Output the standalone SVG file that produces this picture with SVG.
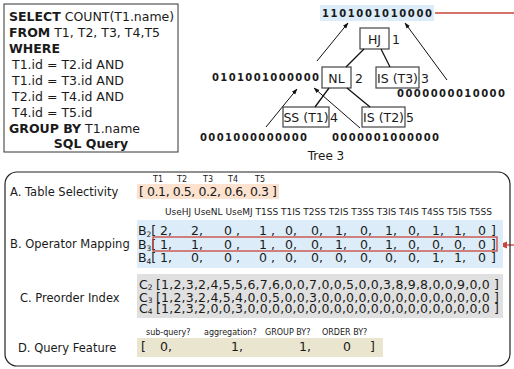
<svg xmlns="http://www.w3.org/2000/svg" width="514" height="369" viewBox="0 0 514 369">
  <style>
    text { font-family: "DejaVu Sans", Verdana, sans-serif; fill: #1a1a1a; }
    .sql { font-size: 12.5px; }
    .b { font-weight: bold; }
    .bits { font-size: 10px; font-weight: bold; }
    .node rect { fill: #ffffff; stroke: #444; stroke-width: 1.2; }
    .node text { font-size: 12.5px; }
    .lbl { font-size: 11.5px; }
    .row { font-size: 12.5px; }
    .tiny { font-size: 8px; }
    .hdr { font-size: 9px; }
    .sub { font-size: 7.5px; }
    .edge { stroke: #111; stroke-width: 1.3; fill: none; }
    .arr { stroke: #111; stroke-width: 1; fill: none; marker-end: url(#ah); }
    .red { stroke: #c8463b; stroke-width: 1.3; fill: none; }
  </style>
  <defs>
    <marker id="ah" viewBox="0 0 10 10" refX="9" refY="5" markerWidth="6" markerHeight="6" orient="auto">
      <path d="M0,1.5 L10,5 L0,8.5 z" fill="#111"/>
    </marker>
    <marker id="ahr" viewBox="0 0 10 10" refX="9" refY="5" markerWidth="7" markerHeight="7" orient="auto">
      <path d="M0,1 L10,5 L0,9 z" fill="#c8463b"/>
    </marker>
  </defs>

  <!-- SQL query box -->
  <g id="sql-query">
    <rect x="4" y="4" width="174" height="148" fill="#fff" stroke="#333" stroke-width="1"/>
    <text class="sql" x="9" y="21"><tspan class="b">SELECT</tspan> COUNT(T1.name)</text>
    <text class="sql" x="9" y="37"><tspan class="b">FROM</tspan> T1, T2, T3, T4,T5</text>
    <text class="sql b" x="9" y="53">WHERE</text>
    <text class="sql" x="12" y="69">T1.id = T2.id AND</text>
    <text class="sql" x="12" y="85">T1.id = T3.id AND</text>
    <text class="sql" x="12" y="101">T2.id = T4.id AND</text>
    <text class="sql" x="12" y="117">T4.id = T5.id</text>
    <text class="sql" x="9" y="133"><tspan class="b">GROUP BY</tspan> T1.name</text>
    <text class="sql b" x="91" y="148" text-anchor="middle">SQL Query</text>
  </g>

  <!-- plan tree bit vectors -->
  <g id="bits-root">
    <rect x="320" y="5" width="114" height="16" fill="#dcedf9"/>
    <text class="bits" x="322" y="17" textLength="110" lengthAdjust="spacing">1101001010000</text>
  </g>
  <g id="bits-nl">
    <text class="bits" x="212" y="81" textLength="107" lengthAdjust="spacing">0101001000000</text>
  </g>
  <g id="bits-is-t3">
    <text class="bits" x="397" y="97" textLength="108" lengthAdjust="spacing">0000000010000</text>
  </g>
  <g id="bits-ss-t1">
    <text class="bits" x="200" y="141" textLength="107" lengthAdjust="spacing">0001000000000</text>
  </g>
  <g id="bits-is-t2">
    <text class="bits" x="332" y="141" textLength="107" lengthAdjust="spacing">0000001000000</text>
  </g>

  <!-- plan tree nodes -->
  <g id="node-hj" class="node">
    <rect x="360" y="28" width="29" height="21"/>
    <text x="374.5" y="43.5" text-anchor="middle">HJ</text>
    <text x="392" y="44">1</text>
  </g>
  <g id="node-nl" class="node">
    <rect x="322" y="67" width="29" height="21"/>
    <text x="336.5" y="82.5" text-anchor="middle">NL</text>
    <text x="355" y="83">2</text>
  </g>
  <g id="node-is-t3" class="node">
    <rect x="376" y="67" width="43" height="21"/>
    <text x="397.5" y="82.5" text-anchor="middle">IS (T3)</text>
    <text x="421" y="83">3</text>
  </g>
  <g id="node-ss-t1" class="node">
    <rect x="283" y="107" width="46" height="20"/>
    <text x="306" y="122" text-anchor="middle">SS (T1)</text>
    <text x="330" y="122">4</text>
  </g>
  <g id="node-is-t2" class="node">
    <rect x="362" y="107" width="43" height="20"/>
    <text x="383.5" y="122" text-anchor="middle">IS (T2)</text>
    <text x="406" y="122">5</text>
  </g>
  <g id="tree-title">
    <text x="326" y="160" font-size="12" text-anchor="middle">Tree 3</text>
  </g>

  <!-- connectors -->
  <g id="connectors">
    <line class="edge" x1="364" y1="49" x2="346" y2="67"/>
    <line class="edge" x1="381" y1="49" x2="390" y2="67"/>
    <line class="edge" x1="329" y1="88" x2="315" y2="107"/>
    <line class="edge" x1="347" y1="88" x2="370" y2="107"/>
    <line class="arr" x1="317" y1="61" x2="348" y2="23"/>
    <line class="arr" x1="447" y1="80" x2="405" y2="23"/>
    <line class="arr" x1="266" y1="127" x2="297" y2="89"/>
    <line class="arr" x1="360" y1="128" x2="314" y2="88"/>
    <line class="red" x1="435" y1="13" x2="514" y2="13"/>
    <line class="red" x1="514" y1="245" x2="499" y2="245" marker-end="url(#ahr)"/>
  </g>

  <!-- feature panel -->
  <g id="feature-panel">
    <rect x="5" y="172" width="505" height="194" rx="12" ry="12" fill="none" stroke="#222" stroke-width="1.2"/>
  </g>

  <!-- A: table selectivity -->
  <g id="row-a">
    <text class="lbl" x="10" y="196">A. Table Selectivity</text>
    <rect x="137" y="184" width="142" height="15" fill="#fce2cf"/>
    <text class="tiny" x="153" y="182">T1</text>
    <text class="tiny" x="177" y="182">T2</text>
    <text class="tiny" x="203" y="182">T3</text>
    <text class="tiny" x="228" y="182">T4</text>
    <text class="tiny" x="255" y="182">T5</text>
    <text class="row" x="139" y="196" textLength="138" lengthAdjust="spacing">[ 0.1, 0.5, 0.2, 0.6, 0.3 ]</text>
  </g>

  <!-- B: operator mapping -->
  <g id="row-b">
    <text class="lbl" x="10" y="248">B. Operator Mapping</text>
    <text class="hdr" x="165" y="215" textLength="327" lengthAdjust="spacing">UseHJ UseNL UseMJ T1SS T1IS T2SS T2IS T3SS T3IS T4IS T4SS T5IS T5SS</text>
    <rect x="137" y="220" width="366" height="48" fill="#dcedf9"/>
    <g class="row">
      <text x="138" y="235">B<tspan class="sub" dy="1.5">2</tspan><tspan dy="-1.5">[</tspan></text>
      <text x="160" y="235">2,</text><text x="191" y="235">2,</text><text x="224" y="235">0 ,</text><text x="259" y="235">1 ,</text>
      <text x="285" y="235">0,</text><text x="311" y="235">0,</text><text x="335" y="235">1,</text><text x="360" y="235">0,</text>
      <text x="385" y="235">1,</text><text x="408" y="235">0,</text><text x="432" y="235">1,</text><text x="454" y="235">1,</text>
      <text x="478" y="235">0</text><text x="491" y="235">]</text>

      <text x="138" y="249">B<tspan class="sub" dy="1.5">3</tspan><tspan dy="-1.5">[</tspan></text>
      <text x="160" y="249">1,</text><text x="191" y="249">1,</text><text x="224" y="249">0 ,</text><text x="259" y="249">1 ,</text>
      <text x="285" y="249">0,</text><text x="311" y="249">0,</text><text x="335" y="249">1,</text><text x="360" y="249">0,</text>
      <text x="385" y="249">1,</text><text x="408" y="249">0,</text><text x="432" y="249">0,</text><text x="454" y="249">0,</text>
      <text x="478" y="249">0</text><text x="491" y="249">]</text>

      <text x="138" y="262">B<tspan class="sub" dy="1.5">4</tspan><tspan dy="-1.5">[</tspan></text>
      <text x="160" y="262">1,</text><text x="191" y="262">0,</text><text x="224" y="262">0 ,</text><text x="259" y="262">0 ,</text>
      <text x="285" y="262">0,</text><text x="311" y="262">0,</text><text x="335" y="262">0,</text><text x="360" y="262">0,</text>
      <text x="385" y="262">0,</text><text x="408" y="262">0,</text><text x="432" y="262">1,</text><text x="454" y="262">1,</text>
      <text x="478" y="262">0</text><text x="491" y="262">]</text>
    </g>
    <rect x="153" y="237" width="344" height="14" fill="none" stroke="#c8463b" stroke-width="1.3"/>
  </g>

  <!-- C: preorder index -->
  <g id="row-c">
    <text class="lbl" x="20" y="302">C. Preorder Index</text>
    <rect x="137" y="274" width="366" height="44" fill="#e0e0e0"/>
    <g class="row">
      <text x="139" y="289">C<tspan class="sub" dy="1">2</tspan></text>
      <text x="156" y="289" textLength="343" lengthAdjust="spacing">[1,2,3,2,4,5,5,6,7,6,0,0,7,0,0,5,0,0,3,8,9,8,0,0,9,0,0 ]</text>
      <text x="139" y="302">C<tspan class="sub" dy="1">3</tspan></text>
      <text x="156" y="302" textLength="343" lengthAdjust="spacing">[1,2,3,2,4,5,4,0,0,5,0,0,3,0,0,0,0,0,0,0,0,0,0,0,0,0,0 ]</text>
      <text x="139" y="313">C<tspan class="sub" dy="1">4</tspan></text>
      <text x="156" y="313" textLength="343" lengthAdjust="spacing">[1,2,3,2,0,0,3,0,0,0,0,0,0,0,0,0,0,0,0,0,0,0,0,0,0,0,0 ]</text>
    </g>
  </g>

  <!-- D: query feature -->
  <g id="row-d">
    <text class="lbl" x="18" y="352">D. Query Feature</text>
    <rect x="137" y="338" width="246" height="19" fill="#e9e5cf"/>
    <text class="tiny" x="146" y="335">sub-query?</text>
    <text class="tiny" x="204" y="335">aggregation?</text>
    <text class="tiny" x="265" y="335">GROUP BY?</text>
    <text class="tiny" x="322" y="335">ORDER BY?</text>
    <g class="row">
      <text x="141" y="351">[</text>
      <text x="160" y="351">0,</text>
      <text x="231" y="351">1,</text>
      <text x="299" y="351">1,</text>
      <text x="343" y="351">0</text>
      <text x="370" y="351">]</text>
    </g>
  </g>
</svg>
